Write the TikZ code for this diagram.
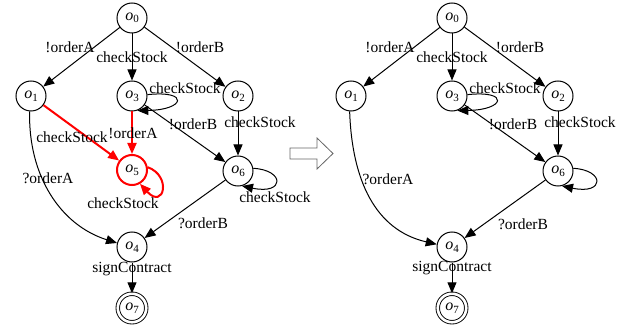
\documentclass[tikz,border=0pt]{standalone}
\usepackage{fontspec}
\setmainfont{Liberation Serif}
\usetikzlibrary{arrows.meta}
\newcommand{\stname}[1]{\textit{o}\raisebox{-0.35ex}{\fontsize{11}{12}\selectfont #1}}
\begin{document}
\begin{tikzpicture}[x=1pt,y=-1pt,
  state/.style={circle,draw,line width=1pt,minimum size=30pt,inner sep=0pt,
    font=\fontsize{16}{18}\selectfont},
  final/.style={state,double,line width=0.9pt,double distance=2.6pt,minimum size=28.5pt},
  hotstate/.style={state,draw=red,line width=2pt},
  lbl/.style={inner sep=0pt,font=\fontsize{15.5}{18}\selectfont},
  tr/.style={line width=1pt,-{Triangle[length=11pt,width=9pt]}},
  hot/.style={draw=red,line width=2pt,-{Triangle[length=11pt,width=9pt]}},
]
\useasboundingbox (0,0) rectangle (632,326);

% ---------- original protocol ----------
\node[state] (a0) at (132,18) {\stname{0}};
\node[state] (a1) at (31,96) {\stname{1}};
\node[state] (a3) at (132,96) {\stname{3}};
\node[state] (a2) at (238,96) {\stname{2}};
\node[hotstate] (a5) at (132,170) {\stname{5}};
\node[state] (a6) at (238,171) {\stname{6}};
\node[state] (a4) at (132,247) {\stname{4}};
\node[final] (a7) at (132,308) {\stname{7}};

\draw[tr] (a0) -- (a1);
\draw[tr] (a0) -- (a3);
\draw[tr] (a0) -- (a2);
\draw[tr] (a3.5) .. controls (190,90) and (185,110) .. (a3.-70);
\draw[tr] (a2) -- (a6);
\draw[tr] (a3) -- (a6);
\draw[hot] (a1) -- (a5);
\draw[hot] (a3) -- (a5);
\draw[hot] (a5.10) .. controls (172,176) and (164,210) .. (a5.-60);
\draw[tr] (a6.10) .. controls (285,170) and (285,195) .. (a6.-75);
\draw[tr] (a1.-95) .. controls (28,175) and (60,225) .. (a4.165);
\draw[tr] (a6) -- (a4);
\draw[tr] (a4) -- (a7);

\node[lbl] (la01) at (70,47) {!orderA};
\node[lbl] (la03) at (132,57) {checkStock};
\node[lbl] (la02) at (200,47) {!orderB};
\node[lbl] (la33) at (185,88) {checkStock};
\node[lbl] (la36) at (193,124) {!orderB};
\node[lbl] (la26) at (260,122) {checkStock};
\node[lbl] (la15) at (72,137) {checkStock};
\node[lbl] (la35) at (133,133) {!orderA};
\node[lbl] (la55) at (123,203) {checkStock};
\node[lbl] (la66) at (275,197) {checkStock};
\node[lbl] (la14) at (48,178) {?orderA};
\node[lbl] (la64) at (203,223) {?orderB};
\node[lbl] (la47) at (132,269) {signContract};

% ---------- transformation arrow ----------
\draw[line width=0.8pt,draw=black!60,fill=white]
  (290,148) -- (317,148) -- (317,138) -- (333,153.5) -- (317,169) -- (317,159) -- (290,159) -- cycle;

% ---------- revised protocol ----------
\node[state] (b0) at (452,18) {\stname{0}};
\node[state] (b1) at (351,96) {\stname{1}};
\node[state] (b3) at (452,96) {\stname{3}};
\node[state] (b2) at (558,96) {\stname{2}};
\node[state] (b6) at (558,171) {\stname{6}};
\node[state] (b4) at (452,247) {\stname{4}};
\node[final] (b7) at (452,308) {\stname{7}};

\draw[tr] (b0) -- (b1);
\draw[tr] (b0) -- (b3);
\draw[tr] (b0) -- (b2);
\draw[tr] (b3.5) .. controls (510,90) and (505,110) .. (b3.-70);
\draw[tr] (b2) -- (b6);
\draw[tr] (b3) -- (b6);
\draw[tr] (b6.10) .. controls (605,170) and (605,195) .. (b6.-75);
\draw[tr] (b1.-95) .. controls (352,180) and (375,230) .. (b4.170);
\draw[tr] (b6) -- (b4);
\draw[tr] (b4) -- (b7);

\node[lbl] (lb01) at (390,47) {!orderA};
\node[lbl] (lb03) at (452,57) {checkStock};
\node[lbl] (lb02) at (520,47) {!orderB};
\node[lbl] (lb33) at (505,88) {checkStock};
\node[lbl] (lb36) at (513,124) {!orderB};
\node[lbl] (lb26) at (580,122) {checkStock};
\node[lbl] (lb14) at (388,179) {?orderA};
\node[lbl] (lb64) at (523,224) {?orderB};
\node[lbl] (lb47) at (452,268) {signContract};
\end{tikzpicture}
\end{document}
